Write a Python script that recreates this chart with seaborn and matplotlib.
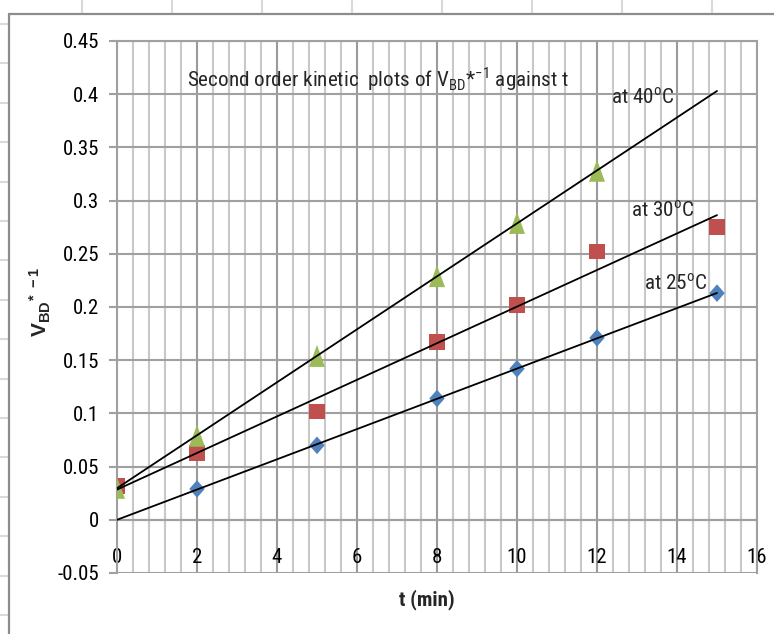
import numpy as np
import pandas as pd
import matplotlib
matplotlib.use("Agg")
import matplotlib.pyplot as plt
from matplotlib import font_manager
from matplotlib.lines import Line2D
from matplotlib.ticker import MultipleLocator, FixedLocator, FixedFormatter
import seaborn as sns

# Reaction time (min) and reciprocal breakdown voltage for each temperature
t_25 = [2, 5, 8, 10, 12, 15]
v_25 = [0.029, 0.070, 0.114, 0.142, 0.171, 0.213]
t_30 = [0, 2, 5, 8, 10, 12, 15]
v_30 = [0.032, 0.063, 0.102, 0.167, 0.202, 0.252, 0.275]
t_40 = [0, 2, 5, 8, 10, 12]
v_40 = [0.030, 0.079, 0.154, 0.229, 0.279, 0.328]

series_names = ["at 25$^{\\mathregular{o}}$C", "at 30$^{\\mathregular{o}}$C", "at 40$^{\\mathregular{o}}$C"]
x_ticks = [0, 2, 4, 6, 8, 10, 12, 14, 16]
y_ticks = [-0.05, 0, 0.05, 0.1, 0.15, 0.2, 0.25, 0.3, 0.35, 0.4, 0.45]
y_tick_labels = ["-0.05", "0", "0.05", "0.1", "0.15", "0.2", "0.25", "0.3", "0.35", "0.4", "0.45"]
title_text = "Second order kinetic  plots of V$_{\\mathregular{BD}}$*$^{\\mathregular{-1}}$ against t"
x_title = "t (min)"
y_title = "$\\mathbf{V}_{\\mathbf{BD}}\\mathbf{^{*\\ -1}}$"


def pick_narrow_font():
    """Return a narrow sans family (and stretch) if one is installed."""
    entries = font_manager.fontManager.ttflist
    names = {e.name for e in entries}
    for fam in ["Liberation Sans Narrow", "Arial Narrow", "Roboto Condensed",
                "Noto Sans Condensed", "Open Sans Condensed", "DejaVu Sans Condensed"]:
        if fam in names:
            return fam, "normal"
    for e in entries:
        if e.stretch in ("condensed", "semi-condensed") and e.style == "normal" \
                and e.weight in (400, "normal", "regular"):
            return e.name, e.stretch
    return "Lato", "normal"


sns.set_style("white")
narrow, stretch = pick_narrow_font()
plt.rcParams["font.family"] = [narrow, "DejaVu Sans"]
plt.rcParams["font.stretch"] = stretch
plt.rcParams["mathtext.fontset"] = "custom"
plt.rcParams["mathtext.rm"] = narrow
plt.rcParams["mathtext.bf"] = "Liberation Sans:bold"

W, H = 774, 634
fig = plt.figure(figsize=(W / 100, H / 100), dpi=100)
fig.patch.set_facecolor("white")

# spreadsheet cell lines around the chart object
for xc in [82, 172, 262, 352, 442, 532, 622, 712]:
    fig.add_artist(Line2D([xc / W, xc / W], [1, 1 - 12 / H], transform=fig.transFigure,
                          color="#d9d9d9", lw=1.5))
for yr in np.arange(24, 634, 39.4):
    fig.add_artist(Line2D([0, 8 / W], [1 - yr / H, 1 - yr / H], transform=fig.transFigure,
                          color="#d9d9d9", lw=1.5))
# chart object border
fig.add_artist(Line2D([9 / W, 1], [1 - 13.5 / H, 1 - 13.5 / H], transform=fig.transFigure,
                      color="#8c8c8c", lw=1.6))
fig.add_artist(Line2D([9 / W, 9 / W], [1 - 13.5 / H, 0], transform=fig.transFigure,
                      color="#8c8c8c", lw=1.6))

left, right, top, bottom = 117, 757, 41, 573
ax = fig.add_axes([left / W, 1 - bottom / H, (right - left) / W, (bottom - top) / H])

# scatter series
diamond = [(0, 1), (0.88, 0), (0, -1), (-0.88, 0)]
triangle = [(0, 1), (0.73, -1), (-0.73, -1)]
df25 = pd.DataFrame({"t": t_25, "v": v_25})
df30 = pd.DataFrame({"t": t_30, "v": v_30})
df40 = pd.DataFrame({"t": t_40, "v": v_40})
sns.scatterplot(data=df25, x="t", y="v", marker=diamond, s=160, color="#4F81BD",
                edgecolor="none", ax=ax, zorder=3)
sns.scatterplot(data=df30, x="t", y="v", marker="s", s=125, color="#C0504D",
                edgecolor="none", ax=ax, zorder=3)
sns.scatterplot(data=df40, x="t", y="v", marker=triangle, s=250, color="#9BBB59",
                edgecolor="none", ax=ax, zorder=3)

# linear trend lines over 0-15 min
t_line = np.array([0, 15])
for tt, vv in [(t_25, v_25), (t_30, v_30), (t_40, v_40)]:
    k, b = np.polyfit(tt, vv, 1)
    sns.lineplot(x=t_line, y=k * t_line + b, color="black", lw=1.3, ax=ax, zorder=4)

ax.set_xlim(0, 16)
ax.set_ylim(-0.05, 0.45)
ax.xaxis.set_major_locator(FixedLocator(x_ticks))
ax.xaxis.set_minor_locator(MultipleLocator(0.4))
ax.yaxis.set_major_locator(FixedLocator(y_ticks))
ax.yaxis.set_major_formatter(FixedFormatter(y_tick_labels))
ax.set_xticklabels([str(v) for v in x_ticks])

ax.grid(which="major", axis="x", color="#9a9a9a", lw=1.5, zorder=0)
ax.grid(which="minor", axis="x", color="#c8c8c8", lw=1.5, zorder=0)
ax.grid(which="major", axis="y", color="#a0a0a0", lw=1.5, zorder=0)
ax.set_axisbelow(True)

for side in ["top", "right", "left"]:
    ax.spines[side].set_color("#a0a0a0")
    ax.spines[side].set_linewidth(1.5)
ax.spines["bottom"].set_position(("data", 0))
ax.spines["bottom"].set_color("#a0a0a0")
ax.spines["bottom"].set_linewidth(1.5)

ax.tick_params(axis="x", which="both", length=0, pad=20, labelsize=15, colors="black")
ax.tick_params(axis="y", which="major", length=6, width=1.5, color="#a0a0a0", pad=7,
               labelsize=15, labelcolor="black", left=True)
ax.set_xlabel("")
ax.set_ylabel("")

# annotations
ax.text(6.52, 0.414, title_text, ha="center", va="center", fontsize=15.2)
ax.text(13.13, 0.397, series_names[2], ha="center", va="center", fontsize=15.2)
ax.text(13.63, 0.291, series_names[1], ha="center", va="center", fontsize=15.2)
ax.text(13.97, 0.222, series_names[0], ha="center", va="center", fontsize=15.2)

fig.text(427 / W, 1 - 600 / H, x_title, ha="center", va="center", fontsize=15,
         fontweight="bold")
fig.text(40 / W, 1 - 302 / H, y_title, ha="center", va="center", fontsize=15,
         rotation=90, family="Liberation Sans")

fig.savefig("out.png", dpi=100, facecolor="white")
